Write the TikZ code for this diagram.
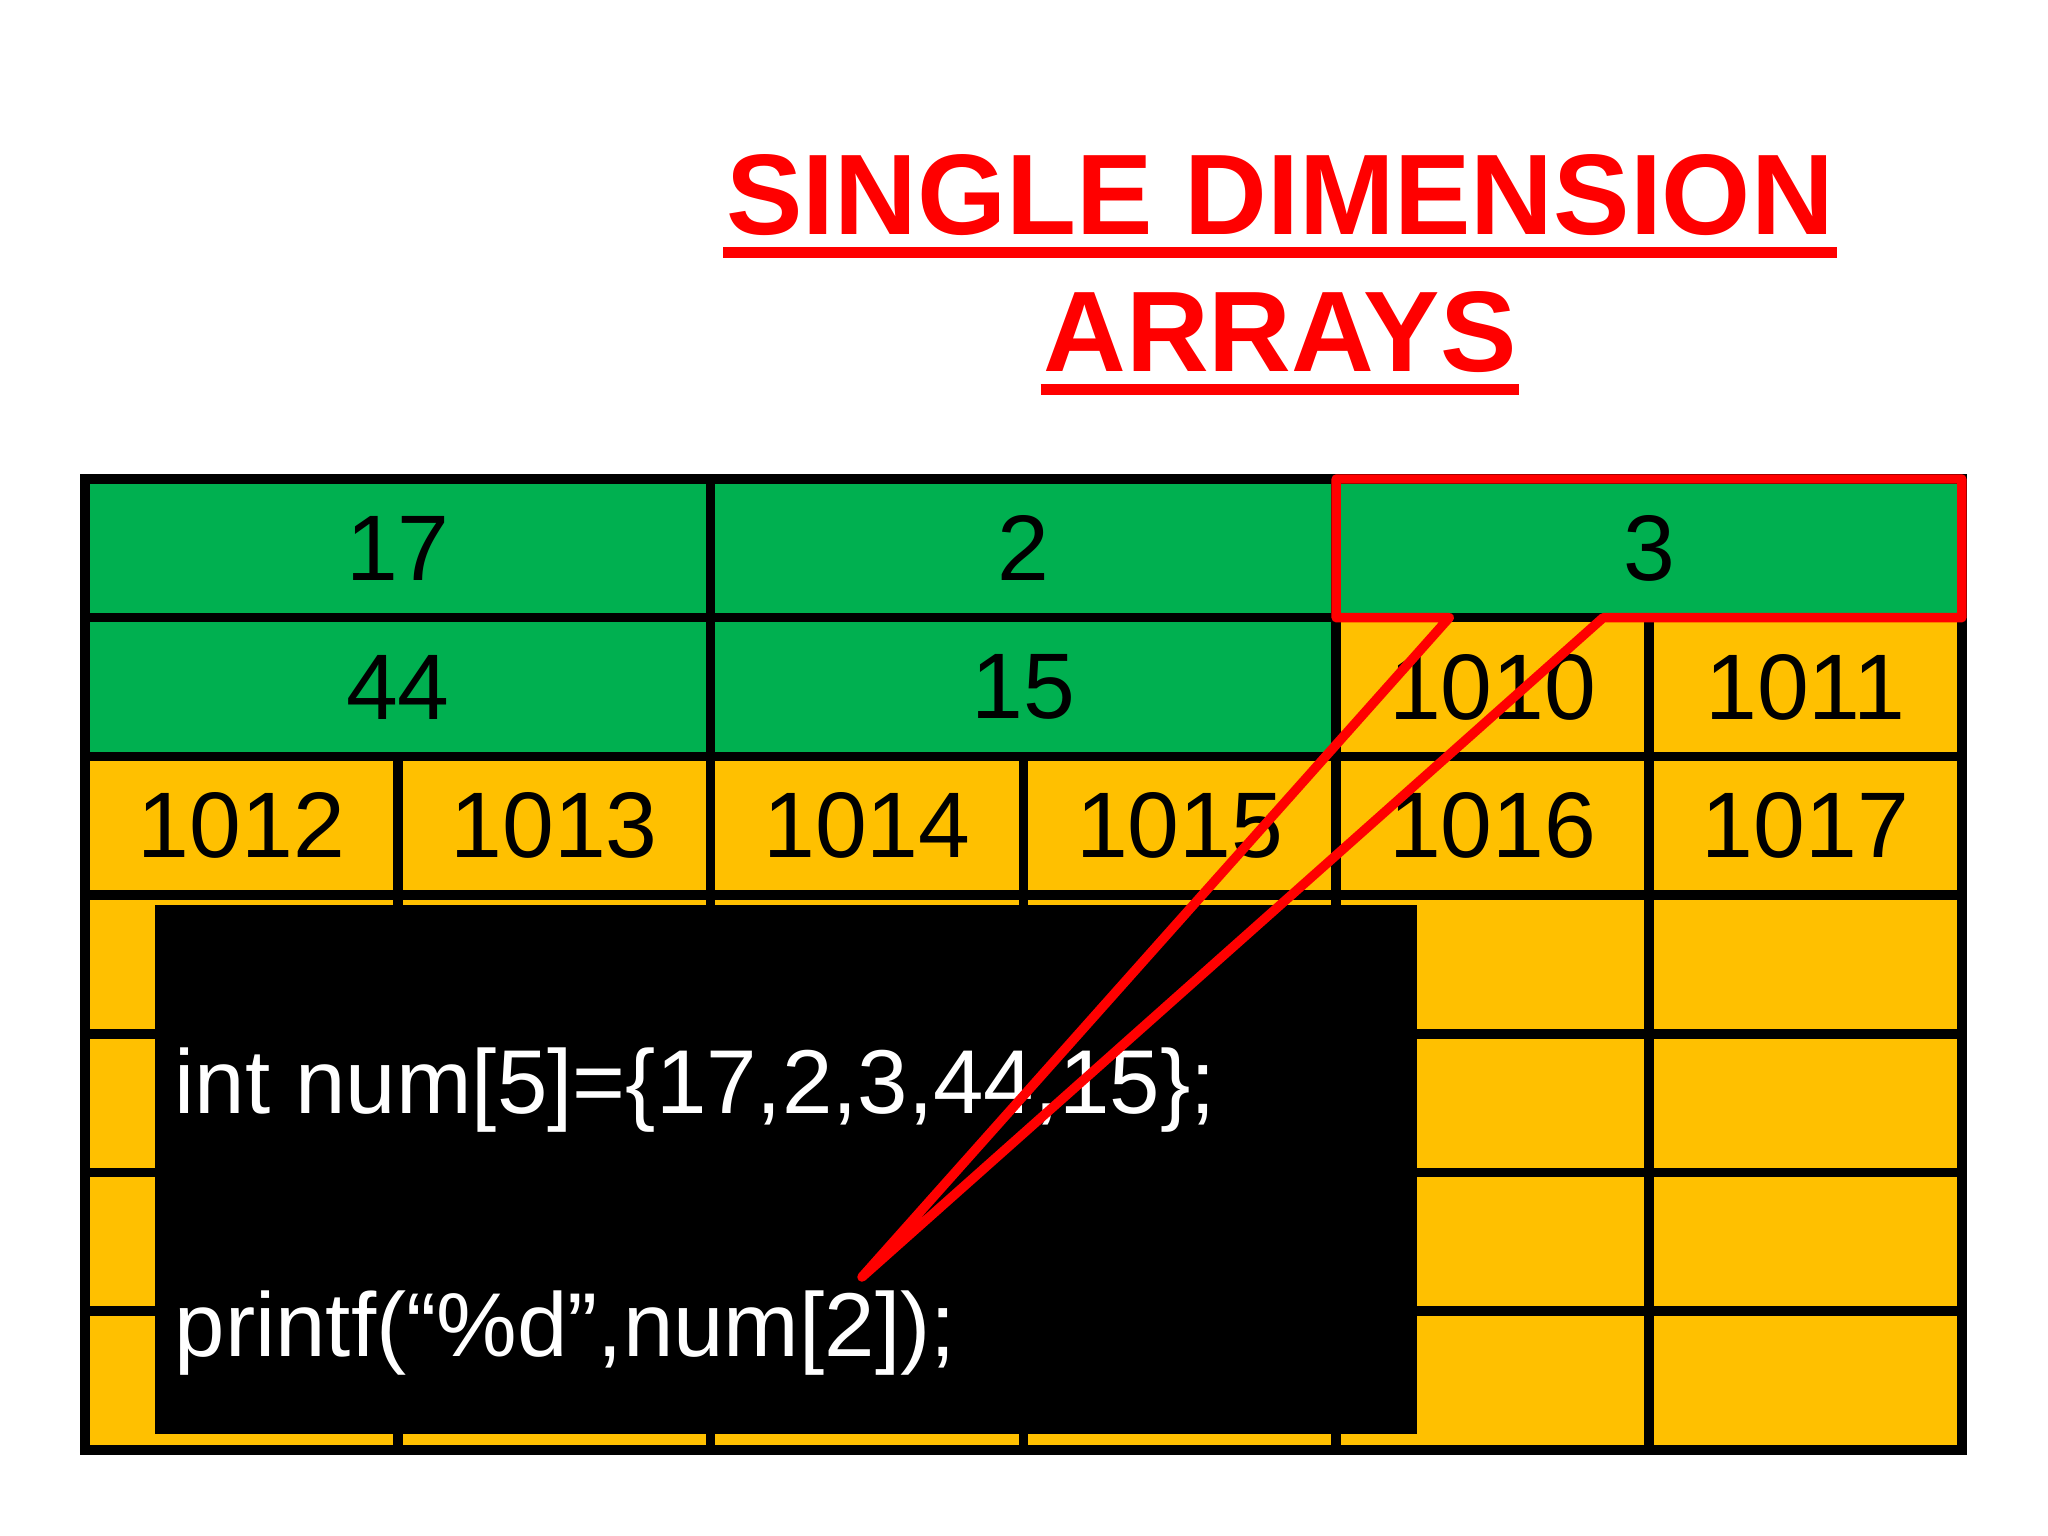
\documentclass[tikz,border=0pt]{standalone}
\usepackage{fontspec}
\setmainfont{Liberation Sans}
\usepackage{tikz}
\usetikzlibrary{positioning,calc}
\definecolor{valgreen}{HTML}{00B050}
\definecolor{addrgold}{HTML}{FFC000}
\definecolor{hired}{HTML}{FF0000}

\begin{document}
\begin{tikzpicture}
\tikzstyle{cell}=[rectangle, draw=black, line width=2.7pt, outer sep=0pt, inner sep=0pt, minimum width=3.128cm, minimum height=1.387cm, font=\fontsize{26.5}{26.5}\selectfont]
\tikzstyle{val}=[cell, fill=valgreen, minimum width=6.256cm]
\tikzstyle{addr}=[cell, fill=addrgold]
\tikzstyle{title}=[inner sep=0pt, text=hired, font=\fontsize{32.6}{32.6}\selectfont\bfseries]
\tikzstyle{uline}=[draw=hired, line width=3.1pt]
\tikzstyle{code}=[inner sep=0pt, text=white, font=\fontsize{25.8}{25.8}\selectfont]
\tikzstyle{callout}=[draw=hired, line width=2.7pt, line join=round, line cap=round]

  \useasboundingbox (0,0) rectangle (20.48,-15.36);

  % heading
  \node[title, anchor=base] (head1) at (12.80,-2.35) {SINGLE DIMENSION};
  \node[title, anchor=base] (head2) at ([yshift=-1.37cm]head1.base) {ARRAYS};
  \path [uline] ([xshift=-0.02cm, yshift=-0.175cm]head1.base west) -- ([xshift=0.02cm, yshift=-0.175cm]head1.base east);
  \path [uline] ([xshift=-0.02cm, yshift=-0.175cm]head2.base west) -- ([xshift=0.02cm, yshift=-0.175cm]head2.base east);

  % values
  \node[val, anchor=north west] (v17) at (0.85,-4.79) {17};
  \node[val] (v2)  [right=0pt of v17] {2};
  \node[val] (v3)  [right=0pt of v2]  {3};
  \node[val] (v44) [below=0pt of v17] {44};
  \node[val] (v15) [right=0pt of v44] {15};

  % addresses
  \node[addr, anchor=north west] (a1010) at (v15.north east) {1010};
  \node[addr] (a1011) [right=0pt of a1010] {1011};
  \node[addr, anchor=north west] (a1012) at (v44.south west) {1012};
  \node[addr] (a1013) [right=0pt of a1012] {1013};
  \node[addr] (a1014) [right=0pt of a1013] {1014};
  \node[addr] (a1015) [right=0pt of a1014] {1015};
  \node[addr] (a1016) [right=0pt of a1015] {1016};
  \node[addr] (a1017) [right=0pt of a1016] {1017};

  % empty rows
  \node[addr] (r4c1) [below=0pt of a1012] {};
  \node[addr] (r4c2) [right=0pt of r4c1]  {};
  \node[addr] (r4c3) [right=0pt of r4c2]  {};
  \node[addr] (r4c4) [right=0pt of r4c3]  {};
  \node[addr] (r4c5) [right=0pt of r4c4]  {};
  \node[addr] (r4c6) [right=0pt of r4c5]  {};
  \node[addr] (r5c1) [below=0pt of r4c1]  {};
  \node[addr] (r5c2) [right=0pt of r5c1]  {};
  \node[addr] (r5c3) [right=0pt of r5c2]  {};
  \node[addr] (r5c4) [right=0pt of r5c3]  {};
  \node[addr] (r5c5) [right=0pt of r5c4]  {};
  \node[addr] (r5c6) [right=0pt of r5c5]  {};
  \node[addr] (r6c1) [below=0pt of r5c1]  {};
  \node[addr] (r6c2) [right=0pt of r6c1]  {};
  \node[addr] (r6c3) [right=0pt of r6c2]  {};
  \node[addr] (r6c4) [right=0pt of r6c3]  {};
  \node[addr] (r6c5) [right=0pt of r6c4]  {};
  \node[addr] (r6c6) [right=0pt of r6c5]  {};
  \node[addr] (r7c1) [below=0pt of r6c1]  {};
  \node[addr] (r7c2) [right=0pt of r7c1]  {};
  \node[addr] (r7c3) [right=0pt of r7c2]  {};
  \node[addr] (r7c4) [right=0pt of r7c3]  {};
  \node[addr] (r7c5) [right=0pt of r7c4]  {};
  \node[addr] (r7c6) [right=0pt of r7c5]  {};

  % code box
  \node[fill=black, inner sep=0pt, anchor=north west, minimum width=12.62cm, minimum height=5.29cm] (codebox) at (1.54,-9.04) {};
  \node[code, anchor=base west] (line1) at (1.74,-11.14) {int num[5]=\{17,2,3,44,15\};};
  \node[code, anchor=base west] (line2) at (1.74,-13.56) {printf(“\%d”,num[2]);};

  % callout from num[2] to the cell
  \coordinate (tip) at (8.62,-12.77);
  \path [callout] (v3.north west) -- (v3.north east) -- (v3.south east)
    -- ($(v3.south west)+(2.67,0)$) -- (tip) -- ($(v3.south west)+(1.13,0)$)
    -- (v3.south west) -- cycle;

\end{tikzpicture}
\end{document}
